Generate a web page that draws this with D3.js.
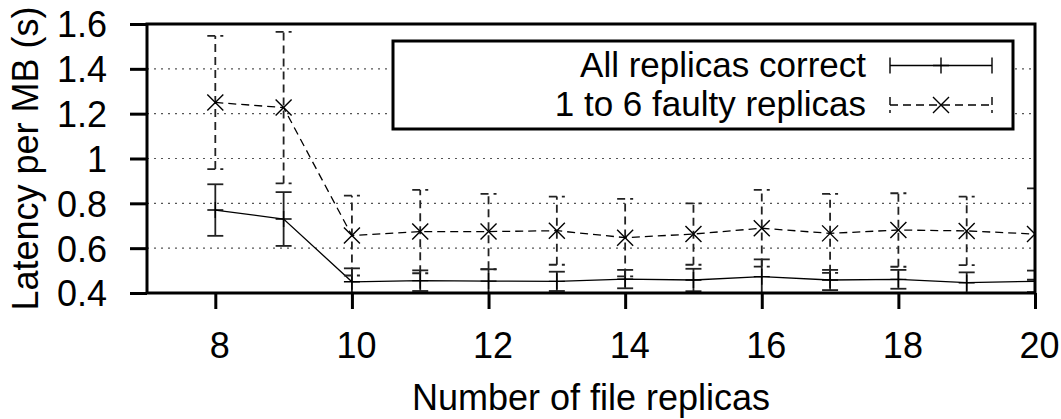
<!DOCTYPE html>
<html>
<head>
<meta charset="utf-8">
<script src="https://cdn.jsdelivr.net/npm/d3@7"></script>
<style>
  body { margin: 0; background: #fff; }
  text { font-family: "Liberation Sans", Arial, sans-serif; fill: #000; }
</style>
</head>
<body>
<div id="chart"></div>
<script>
// number of file replicas
let replicas = [8, 9, 10, 11, 12, 13, 14, 15, 16, 17, 18, 19, 20];

// All replicas correct: mean latency per MB and error
let correctMean = [0.77, 0.73, 0.45, 0.455, 0.453, 0.452, 0.462, 0.458, 0.473, 0.458, 0.461, 0.446, 0.452];
let correctErr  = [0.115, 0.12, 0.06, 0.046, 0.053, 0.043, 0.041, 0.05, 0.077, 0.045, 0.042, 0.046, 0.048];

// 1 to 6 faulty replicas
let faultyMean = [1.25, 1.227, 0.656, 0.674, 0.674, 0.678, 0.647, 0.663, 0.689, 0.666, 0.681, 0.677, 0.663];
let faultyErr  = [0.297, 0.338, 0.178, 0.186, 0.168, 0.152, 0.173, 0.137, 0.171, 0.176, 0.164, 0.153, 0.204];

let xTicks = [8, 10, 12, 14, 16, 18, 20];
let yTicks = [0.4, 0.6, 0.8, 1, 1.2, 1.4, 1.6];
let yGrid = [0.6, 0.8, 1, 1.2, 1.4];

let seriesNames = ["All replicas correct", "1 to 6 faulty replicas"];

let width = 1061, height = 419;
let margin = {left: 147, right: 26, top: 24, bottom: 126};

let svg = d3.select("#chart").append("svg")
    .attr("width", width)
    .attr("height", height);

let x = d3.scaleLinear().domain([7, 20]).range([margin.left, width - margin.right]);
let y = d3.scaleLinear().domain([0.4, 1.6]).range([height - margin.bottom, margin.top]);

let fontSize = 36;
let legendFont = 35;

// clip for the data
svg.append("clipPath").attr("id", "plotclip")
  .append("rect")
    .attr("x", x.range()[0])
    .attr("y", y.range()[1])
    .attr("width", x.range()[1] - x.range()[0])
    .attr("height", y.range()[0] - y.range()[1]);

// dotted grid lines
svg.append("g").attr("class", "grid")
  .selectAll("line")
  .data(yGrid).enter()
  .append("line")
    .attr("x1", x.range()[0])
    .attr("x2", x.range()[1])
    .attr("y1", d => y(d))
    .attr("y2", d => y(d))
    .attr("stroke", "#555")
    .attr("stroke-width", 1.2)
    .attr("stroke-dasharray", "2,5");

let series = [
  {mean: correctMean, err: correctErr, dash: null, marker: "plus"},
  {mean: faultyMean, err: faultyErr, dash: "8,5", marker: "cross"}
];

function markerPath(type, cx, cy, s) {
  if (type === "plus") {
    return "M" + (cx - s) + "," + cy + "H" + (cx + s) + "M" + cx + "," + (cy - s) + "V" + (cy + s);
  }
  return "M" + (cx - s) + "," + (cy - s) + "L" + (cx + s) + "," + (cy + s) +
         "M" + (cx - s) + "," + (cy + s) + "L" + (cx + s) + "," + (cy - s);
}

let plot = svg.append("g").attr("clip-path", "url(#plotclip)");

series.forEach(function(s) {
  let pts = replicas.map(function(r, i) {
    return {x: r, m: s.mean[i], lo: s.mean[i] - s.err[i], hi: s.mean[i] + s.err[i]};
  });
  let g = plot.append("g");

  // error bars
  let bars = g.selectAll(".bar").data(pts).enter().append("g");
  bars.append("line")
    .attr("x1", d => x(d.x)).attr("x2", d => x(d.x))
    .attr("y1", d => y(d.lo)).attr("y2", d => y(d.hi))
    .attr("stroke", "#222").attr("stroke-width", 1.8)
    .attr("stroke-dasharray", s.dash);
  bars.selectAll(".cap").data(d => [[d.x, d.lo], [d.x, d.hi]]).enter()
    .append("line")
    .attr("x1", d => x(d[0]) - 8).attr("x2", d => x(d[0]) + 8)
    .attr("y1", d => y(d[1])).attr("y2", d => y(d[1]))
    .attr("stroke", "#222").attr("stroke-width", 1.8)
    .attr("stroke-dasharray", s.dash);

  // line through means
  g.append("path")
    .datum(pts)
    .attr("fill", "none")
    .attr("stroke", "#000")
    .attr("stroke-width", 1.3)
    .attr("stroke-dasharray", s.dash)
    .attr("d", d3.line().x(d => x(d.x)).y(d => y(d.m)));

  // markers
  g.selectAll(".mk").data(pts).enter().append("path")
    .attr("d", d => markerPath(s.marker, x(d.x), y(d.m), 8))
    .attr("stroke", "#000").attr("stroke-width", 1.4).attr("fill", "none");
});

// legend box
let legend = svg.append("g");
legend.append("rect")
  .attr("x", 393).attr("y", 41)
  .attr("width", 620).attr("height", 88)
  .attr("fill", "#fff").attr("stroke", "#000").attr("stroke-width", 3);

seriesNames.forEach(function(name, i) {
  let base = 76.5 + i * 39.5;
  let ly = base - 11;
  let s = series[i];
  legend.append("text")
    .attr("x", 866).attr("y", base)
    .attr("text-anchor", "end")
    .style("font-size", legendFont + "px")
    .text(name);
  legend.append("line")
    .attr("x1", 890).attr("x2", 992).attr("y1", ly).attr("y2", ly)
    .attr("stroke", "#000").attr("stroke-width", 1.3)
    .attr("stroke-dasharray", s.dash);
  [890, 992].forEach(function(ex) {
    legend.append("line")
      .attr("x1", ex).attr("x2", ex).attr("y1", ly - 8).attr("y2", ly + 8)
      .attr("stroke", "#000").attr("stroke-width", 1.4)
      .attr("stroke-dasharray", s.dash);
  });
  legend.append("path")
    .attr("d", markerPath(s.marker, 941, ly, 8))
    .attr("stroke", "#000").attr("stroke-width", 1.4).attr("fill", "none");
});

// axes (ticks outside)
let xAxis = svg.append("g")
  .attr("transform", "translate(0," + y.range()[0] + ")")
  .call(d3.axisBottom(x).tickValues(xTicks).tickSize(16).tickPadding(0).tickFormat(d3.format("d")));
xAxis.select(".domain").remove();
xAxis.selectAll(".tick line").attr("stroke-width", 3);
xAxis.selectAll(".tick text")
  .attr("y", 65).attr("dy", null).attr("dx", 4)
  .style("font-size", fontSize + "px")
  .style("font-family", '"Liberation Sans", Arial, sans-serif');

let yAxis = svg.append("g")
  .attr("transform", "translate(" + x.range()[0] + ",0)")
  .call(d3.axisLeft(y).tickValues(yTicks).tickSize(17).tickPadding(0).tickFormat(d => d3.format("")(+d.toFixed(1))));
yAxis.select(".domain").remove();
yAxis.selectAll(".tick line").attr("stroke-width", 3);
yAxis.selectAll(".tick text")
  .attr("x", -40).attr("dy", "0.36em")
  .style("font-size", fontSize + "px")
  .style("font-family", '"Liberation Sans", Arial, sans-serif');

// frame
svg.append("rect")
  .attr("x", x.range()[0]).attr("y", y.range()[1])
  .attr("width", x.range()[1] - x.range()[0])
  .attr("height", y.range()[0] - y.range()[1])
  .attr("fill", "none").attr("stroke", "#000").attr("stroke-width", 3);

// axis titles
svg.append("text")
  .attr("x", (x.range()[0] + x.range()[1]) / 2)
  .attr("y", 410)
  .attr("text-anchor", "middle")
  .style("font-size", fontSize + "px")
  .text("Number of file replicas");

svg.append("text")
  .attr("transform", "translate(38," + (y.range()[0] + y.range()[1]) / 2 + ") rotate(-90)")
  .attr("text-anchor", "middle")
  .style("font-size", fontSize + "px")
  .text("Latency per MB (s)");
</script>
</body>
</html>
